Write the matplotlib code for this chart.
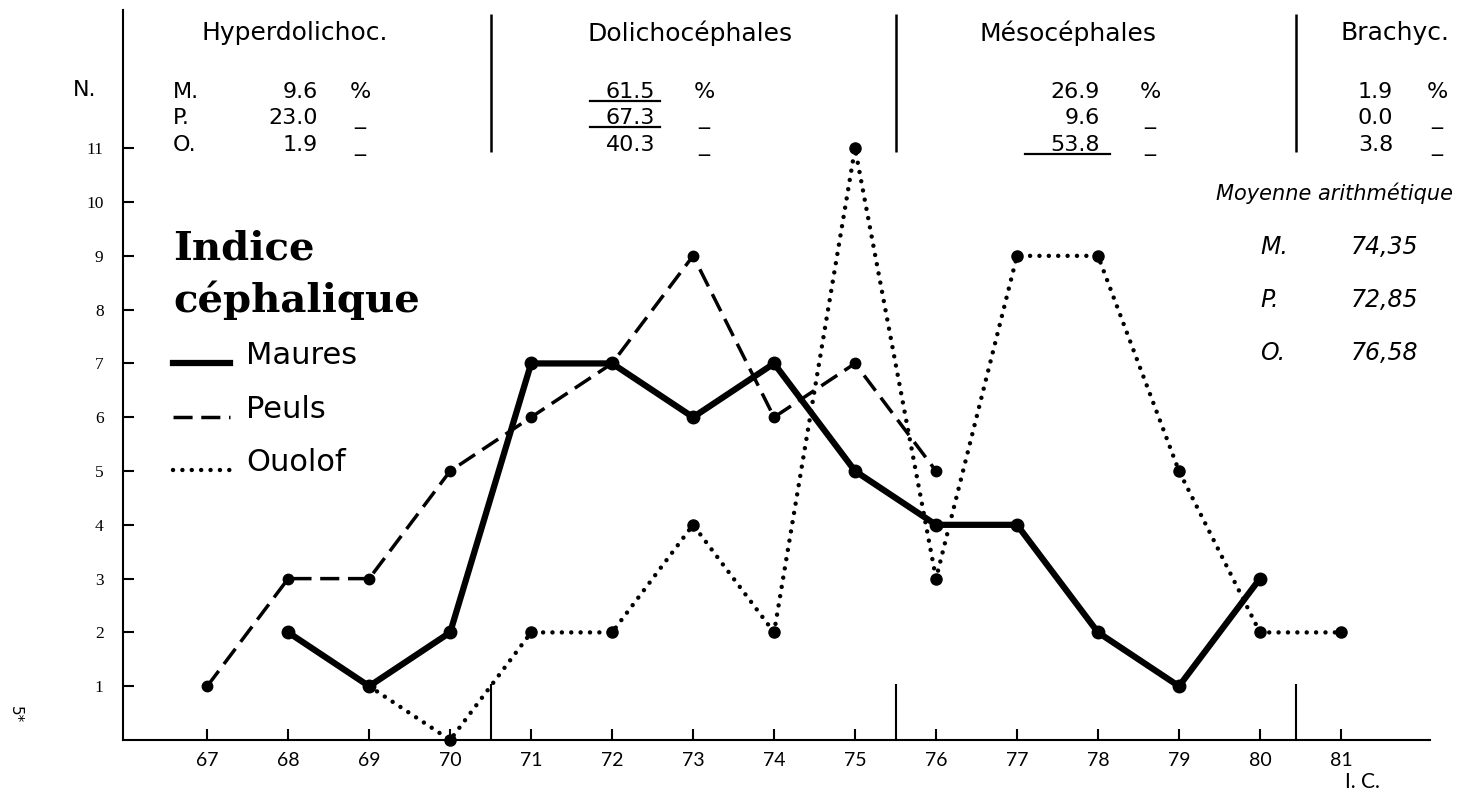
import matplotlib.pyplot as plt
from matplotlib.lines import Line2D
from matplotlib import font_manager

# Data
ic = [67, 68, 69, 70, 71, 72, 73, 74, 75, 76, 77, 78, 79, 80, 81]
maures_x = [68, 69, 70, 71, 72, 73, 74, 75, 76, 77, 78, 79, 80]
maures_n = [2, 1, 2, 7, 7, 6, 7, 5, 4, 4, 2, 1, 3]
peuls_x = [67, 68, 69, 70, 71, 72, 73, 74, 75, 76]
peuls_n = [1, 3, 3, 5, 6, 7, 9, 6, 7, 5]
ouolof_x = [69, 70, 71, 72, 73, 74, 75, 76, 77, 78, 79, 80, 81]
ouolof_n = [1, 0, 2, 2, 4, 2, 11, 3, 9, 9, 5, 2, 2]

classes = ["Hyperdolichoc.", "Dolichocéphales", "Mésocéphales", "Brachyc."]
class_bounds = [70.5, 75.5, 80.45]
pct_m = ["9.6", "61.5", "26.9", "1.9"]
pct_p = ["23.0", "67.3", "9.6", "0.0"]
pct_o = ["1.9", "40.3", "53.8", "3.8"]
mean_labels = ["M.", "P.", "O."]
mean_values = ["74,35", "72,85", "76,58"]

W, H = 1459, 792


def px(x, y):
    # pixel position -> figure fraction
    return x / W, 1 - y / H


names = {f.name for f in font_manager.fontManager.ttflist}
if "Liberation Sans Narrow" in names:
    head_font, head_size = "Liberation Sans Narrow", 21
else:
    head_font, head_size = "DejaVu Sans", 18
tick_font = "Lato" if "Lato" in names else "DejaVu Sans"

fig = plt.figure(figsize=(W / 100, H / 100), dpi=100)
ax = fig.add_axes([123 / W, 52 / H, 1307 / W, 730 / H])

ax.plot(maures_x, maures_n, color="black", lw=4.5, marker="o", ms=9,
        solid_joinstyle="round", clip_on=False, zorder=4)
ax.plot(peuls_x, peuls_n, color="black", lw=2.5, marker="o", ms=7.5,
        linestyle=(0, (5.5, 2.5)), clip_on=False, zorder=3)
ax.plot(ouolof_x, ouolof_n, color="black", lw=3.2, marker="o", ms=8,
        linestyle=(0, (0.01, 2.1)), dash_capstyle="round", clip_on=False, zorder=3)

ax.set_xlim(65.96, 82.1)
ax.set_ylim(0, 13.57)
ax.set_xticks(ic)
ax.set_yticks(range(1, 12))
ax.tick_params(axis="x", direction="in", length=8, width=1.5, pad=9, labelsize=14)
ax.tick_params(axis="y", direction="in", length=8, width=1.5, pad=14, labelsize=12.5)
for lab in ax.get_xticklabels():
    lab.set_fontfamily(tick_font)
for lab in ax.get_yticklabels():
    lab.set_fontfamily("Liberation Serif")
for s in ["top", "right"]:
    ax.spines[s].set_visible(False)
for s in ["left", "bottom"]:
    ax.spines[s].set_linewidth(1.5)

# class boundaries, below and in the header
ax.vlines(class_bounds, 0, 1.05, color="black", lw=1.5)
ax.vlines(class_bounds, 10.93, 13.5, color="black", lw=1.8, clip_on=False)

# header table
head_cx = [295, 690, 1068, 1395]
num_right = [318, 655, 1100, 1393]
unit_cx = [360, 704, 1150, 1437]
row_base = [98, 124, 151]
for i, name in enumerate(classes):
    fig.text(*px(head_cx[i], 33), name, ha="center", va="center",
             fontsize=head_size, family=head_font)
    for r, vals in enumerate([pct_m, pct_p, pct_o]):
        fig.text(*px(num_right[i], row_base[r]), vals[i], ha="right",
                 va="baseline", fontsize=16)
        fig.text(*px(unit_cx[i], row_base[r]), "%" if r == 0 else "_",
                 ha="center", va="baseline", fontsize=16)
for r, lab in enumerate(mean_labels):
    fig.text(*px(173, row_base[r]), lab, ha="left", va="baseline", fontsize=16)
fig.text(*px(85, 90), "N.", ha="center", va="center", fontsize=16)

# underlines in the header
for x0, x1, y in [(590, 660, 101), (590, 660, 127), (1025, 1110, 154)]:
    fig.add_artist(Line2D([x0 / W, x1 / W], [1 - y / H, 1 - y / H],
                          color="black", lw=1.6))

# title + legend
fig.text(*px(173, 260), "Indice", ha="left", va="baseline", fontsize=29,
         family="DejaVu Serif", weight="bold")
fig.text(*px(173, 312), "céphalique", ha="left", va="baseline", fontsize=29,
         family="DejaVu Serif", weight="bold")
legend_items = [("Maures", dict(lw=4.5), 363),
                ("Peuls", dict(lw=2.5, linestyle=(0, (5.5, 2.5))), 417),
                ("Ouolof", dict(lw=3.2, linestyle=(0, (0.01, 2.1)),
                                dash_capstyle="round"), 470)]
for label, style, y in legend_items:
    fig.add_artist(Line2D([173 / W, 230 / W], [1 - y / H, 1 - y / H],
                          color="black", **style))
    fig.text(*px(246, y - 8), label, ha="left", va="center", fontsize=22)

# arithmetic means
fig.text(*px(1453, 193), "Moyenne arithmétique", ha="right", va="center",
         fontsize=15, style="italic")
for r, (lab, val) in enumerate(zip(mean_labels, mean_values)):
    y = 247 + r * 53
    fig.text(*px(1260, y), lab, ha="left", va="center", fontsize=17, style="italic")
    fig.text(*px(1418, y), val, ha="right", va="center", fontsize=17, style="italic")

fig.text(*px(1362, 782), "I. C.", ha="center", va="center", fontsize=15,
         family=tick_font)
fig.text(*px(15, 715), "5*", ha="center", va="center", fontsize=11, rotation=-90)

fig.savefig("out.png", dpi=100)
